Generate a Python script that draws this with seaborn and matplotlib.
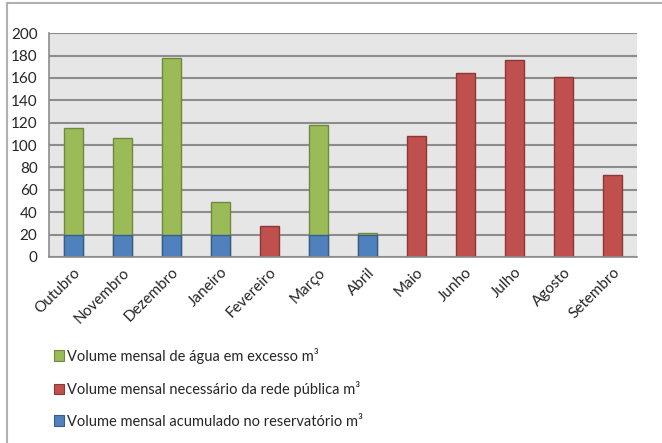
import numpy as np
import pandas as pd
import matplotlib
matplotlib.use("Agg")
import matplotlib.pyplot as plt
from matplotlib.patches import Patch
from matplotlib.lines import Line2D
import seaborn as sns

# dados
meses = ['Outubro', 'Novembro', 'Dezembro', 'Janeiro', 'Fevereiro', 'Março',
         'Abril', 'Maio', 'Junho', 'Julho', 'Agosto', 'Setembro']
acumulado = [20, 20, 20, 20, 0, 20, 20, 0, 0, 0, 0, 0]
excesso = [95, 86, 158, 29, 0, 98, 1, 0, 0, 0, 0, 0]
rede_publica = [0, 0, 0, 0, 28, 0, 0, 108, 164, 176, 161, 73]

nomes = ['Volume mensal de água em excesso m³',
         'Volume mensal necessário da rede pública m³',
         'Volume mensal acumulado no reservatório m³']
cores = ['#9BBB59', '#C0504D', '#4F81BD']
bordas = ['#71893F', '#8C3836', '#385D8A']

df = pd.DataFrame({'mes': meses,
                   'acumulado': acumulado,
                   'excesso': excesso,
                   'rede': rede_publica})
df['total'] = df['acumulado'] + df['excesso']

sns.set_style('white')
plt.rcParams['font.family'] = ['Lato', 'DejaVu Sans']

fig = plt.figure(figsize=(6.62, 4.43), dpi=100)
ax = fig.add_axes([0.0735, 0.42, 0.8885, 0.505])
ax.set_facecolor('#E6E6E6')

largura = 0.39
# verde (total), depois azul por cima, e vermelho
sns.barplot(data=df, x='mes', y='total', order=meses, color=cores[0],
            edgecolor=bordas[0], linewidth=1, width=largura, saturation=1, ax=ax)
sns.barplot(data=df, x='mes', y='acumulado', order=meses, color=cores[2],
            edgecolor=bordas[2], linewidth=1, width=largura, saturation=1, ax=ax)
sns.barplot(data=df, x='mes', y='rede', order=meses, color=cores[1],
            edgecolor=bordas[1], linewidth=1, width=largura, saturation=1, ax=ax)

ax.set_ylim(0, 200)
ax.set_xlim(-0.5, 11.5)
ax.set_yticks(range(0, 201, 20))
ax.yaxis.grid(True, color='#8C8C8C', linewidth=1.5)
ax.set_axisbelow(True)
ax.set_xlabel('')
ax.set_ylabel('')

for s in ['top', 'right']:
    ax.spines[s].set_visible(False)
ax.spines['left'].set_color('#8C8C8C')
ax.spines['bottom'].set_color('#8C8C8C')
ax.spines['left'].set_linewidth(1.2)
ax.spines['bottom'].set_linewidth(1.2)

ax.tick_params(axis='y', length=5, color='#8C8C8C', labelsize=11, pad=3)
ax.set_xticks(range(12))
ax.set_xticklabels(meses, rotation=45, ha='right', rotation_mode='anchor', fontsize=11)
ax.tick_params(axis='x', which='major', length=0, pad=6)
ax.set_xticks(np.arange(-0.5, 12, 1), minor=True)
ax.tick_params(axis='x', which='minor', length=5, color='#8C8C8C')

handles = [Patch(facecolor=c, edgecolor=b, linewidth=0.8) for c, b in zip(cores, bordas)]
fig.legend(handles, nomes, loc='upper left', bbox_to_anchor=(0.062, 0.245),
           frameon=False, fontsize=10.5, handlelength=0.7, handleheight=0.7,
           handletextpad=0.15, labelspacing=1.2)

# moldura do gráfico
fig.add_artist(Line2D([7 / 662, 1], [1 - 3 / 443, 1 - 3 / 443], color='#B0B0B0', linewidth=1.5))
fig.add_artist(Line2D([7 / 662, 7 / 662], [0, 1 - 3 / 443], color='#B0B0B0', linewidth=1.5))

fig.savefig('out.png', dpi=100)
